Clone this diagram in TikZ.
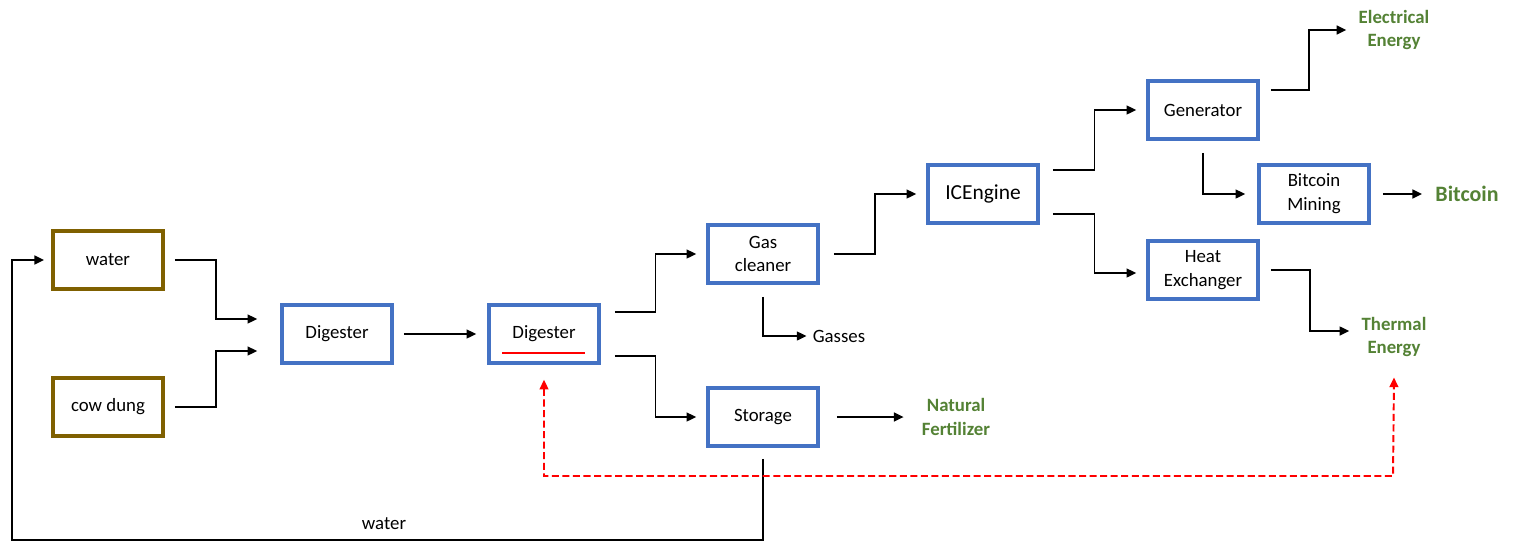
\documentclass[tikz,border=0pt]{standalone}
\usepackage{fontspec}
\setmainfont{Carlito}
\usetikzlibrary{arrows.meta,calc,shadows}

\definecolor{boxblue}{HTML}{4472C4}
\definecolor{dungbrown}{HTML}{7F6000}
\definecolor{outgreen}{HTML}{548235}

\tikzset{elbow/.style={to path={-| ($(\tikztostart)!0.5!(\tikztotarget)$) |- (\tikztotarget)}}}

\begin{document}
\begin{tikzpicture}[>={Triangle[length=5.5pt,width=5pt]},
    every node/.style={font=\fontsize{10.7}{13.6}\selectfont, align=center},
    procbox/.style={rectangle, draw=boxblue, line width=2pt, fill=white, minimum width=2.2cm, minimum height=1.16cm,
        drop shadow={shadow xshift=0.7pt, shadow yshift=-0.7pt, opacity=0.25, fill=gray}},
    inbox/.style={procbox, draw=dungbrown, line width=2.2pt},
    product/.style={inner sep=0pt, text=outgreen, font=\fontsize{10.7}{13.6}\selectfont\bfseries},
    flow/.style={->, line width=1.1pt, black},
    feedback/.style={<->, line width=1.1pt, red, dash pattern=on 4pt off 2pt}]
				\useasboundingbox (0,0) rectangle (30.28,-10.82);

				\node[inbox] (water) at (2.16,-5.2) {water};
				\node[inbox] (dung) at (2.16,-8.14) {cow dung};
				\node[procbox] (dig1) at (6.74,-6.68) {Digester};
				\node[procbox] (dig2) at (10.88,-6.68) {Digester};
				\node[procbox] (gas) at (15.26,-5.08) {Gas\\cleaner};
				\node[procbox] (storage) at (15.26,-8.34) {Storage};
				\node[procbox, font=\fontsize{12.2}{14}\selectfont] (engine) at (19.66,-3.88) {ICEngine};
				\node[procbox] (generator) at (24.06,-2.2) {Generator};
				\node[procbox] (mining) at (26.28,-3.88) {Bitcoin\\Mining};
				\node[procbox] (heat) at (24.06,-5.4) {Heat\\Exchanger};

				\node[inner sep=0pt] (gasses) at (16.78,-6.72) {Gasses};
				\node[product] (fert) at (19.12,-8.34) {Natural\\Fertilizer};
				\node[product] (elec) at (27.88,-0.6) {Electrical\\Energy};
				\node[product, font=\fontsize{12.5}{15}\selectfont\bfseries] (bitcoin) at (29.34,-3.88) {Bitcoin};
				\node[product] (thermal) at (27.88,-6.74) {Thermal\\Energy};
				\node[inner sep=0pt] (waterlbl) at (7.68,-10.48) {water};

				\coordinate (loopcorner) at (0.24,-10.8);
				\coordinate (redcorner) at (27.86,-9.52);

				\draw[red, line width=1.2pt] ([xshift=-0.84cm, yshift=-0.38cm]dig2.center) -- ++(1.66,0);

				\draw[flow] ([xshift=2mm]water.east) to[elbow] ([xshift=-4.6mm, yshift=3mm]dig1.west);
				\draw[flow] ([xshift=2mm]dung.east) to[elbow] ([xshift=-4.6mm, yshift=-3.4mm]dig1.west);
				\draw[flow] ([xshift=2mm]dig1.east) -- ([xshift=-2.2mm]dig2.west);
				\draw[flow] ([xshift=2.8mm, yshift=4.4mm]dig2.east) to[elbow] ([xshift=-2mm]gas.west);
				\draw[flow] ([xshift=2.8mm, yshift=-4.4mm]dig2.east) to[elbow] ([xshift=-2mm]storage.west);
				\draw[flow] ([yshift=-2.4mm]gas.south) |- ([xshift=-1.2mm]gasses.west);
				\draw[flow] ([xshift=2.8mm]gas.east) to[elbow] ([xshift=-2mm]engine.west);
				\draw[flow] ([xshift=3.4mm]storage.east) -- ([xshift=-3.6mm]fert.west);
				\draw[flow] ([xshift=2.6mm, yshift=4.8mm]engine.east) to[elbow] ([xshift=-2mm]generator.west);
				\draw[flow] ([xshift=2.6mm, yshift=-4mm]engine.east) to[elbow] ([xshift=-2mm, yshift=-0.6mm]heat.west);
				\draw[flow] ([xshift=2.2mm, yshift=4mm]generator.east) to[elbow] ([xshift=-2.4mm]elec.west);
				\draw[flow] ([yshift=-2.4mm]generator.south) |- ([xshift=-2.4mm]mining.west);
				\draw[flow] ([xshift=2.4mm]mining.east) -- ([xshift=-2.6mm]bitcoin.west);
				\draw[flow] ([xshift=2.2mm]heat.east) to[elbow] ([xshift=-2.4mm, yshift=1.2mm]thermal.west);

				\draw[flow] ([yshift=-2.2mm]storage.south) |- (loopcorner) |- ([xshift=-1.4mm]water.west);
				\draw[feedback] ([yshift=-3mm]dig2.south) |- (redcorner) -- ([yshift=-4mm]thermal.south);
			\end{tikzpicture}
\end{document}
